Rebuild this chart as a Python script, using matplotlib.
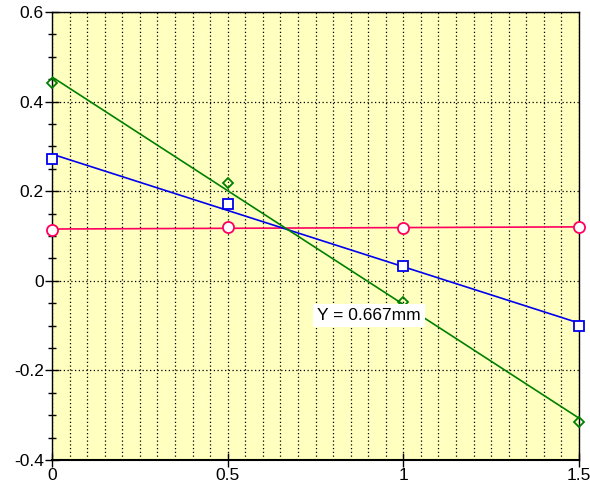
import numpy as np
import matplotlib
matplotlib.use("Agg")
import matplotlib.pyplot as plt
from matplotlib.ticker import MultipleLocator

plt.rcParams['font.family'] = ['Liberation Sans', 'DejaVu Sans']

x = [0, 0.5, 1.0, 1.5]
red_y = [0.114, 0.120, 0.118, 0.120]
blue_y = [0.273, 0.171, 0.033, -0.100]
green_y = [0.442, 0.218, -0.047, -0.316]
annotation = "Y = 0.667mm"

fig = plt.figure(figsize=(5.9, 4.9), dpi=100)
ax = fig.add_axes([0.0881, 0.0612, 0.8933, 0.9143])
ax.set_facecolor('#ffffc0')

ax.set_xlim(0, 1.5)
ax.set_ylim(-0.4, 0.6)

ax.xaxis.set_major_locator(MultipleLocator(0.5))
ax.xaxis.set_minor_locator(MultipleLocator(0.05))
ax.yaxis.set_major_locator(MultipleLocator(0.2))
ax.yaxis.set_minor_locator(MultipleLocator(0.05))

ax.grid(True, which='minor', axis='x', color='black', linestyle=(0, (1, 2)), linewidth=0.9)
ax.grid(True, which='major', axis='both', color='black', linestyle=(0, (1, 2)), linewidth=0.9)
ax.set_axisbelow(True)

ax.tick_params(axis='both', which='major', direction='inout', length=10, width=1, labelsize=12.5, pad=1)
ax.tick_params(axis='y', which='minor', direction='inout', length=6, width=1)
ax.tick_params(axis='x', which='minor', length=0)

ax.xaxis.set_major_formatter(matplotlib.ticker.FuncFormatter(lambda v, p: f"{v:g}"))
ax.yaxis.set_major_formatter(matplotlib.ticker.FuncFormatter(lambda v, p: f"{v:g}"))

for s in ax.spines.values():
    s.set_color('black')
    s.set_linewidth(1)
ax.spines['bottom'].set_linewidth(1.5)

xs = np.array(x)
series = [
    (red_y, '#ff0060', 'o', 8, 'white'),
    (blue_y, '#0000ee', 's', 7.5, 'white'),
    (green_y, '#008000', 'D', 5.5, 'none'),
]
for ys, col, mk, ms, fc in series:
    k, b = np.polyfit(xs, ys, 1)
    xl = np.array([0, 1.5])
    ax.plot(xl, k * xl + b, color=col, linewidth=1.2, zorder=3)
for ys, col, mk, ms, fc in series:
    ax.plot(xs, ys, linestyle='none', marker=mk, markersize=ms, markerfacecolor=fc,
            markeredgecolor=col, markeredgewidth=1.3, zorder=4, clip_on=False)

ax.text(0.755, -0.077, annotation, fontsize=12.5, va='center', ha='left', zorder=5,
        bbox=dict(facecolor='white', edgecolor='none', pad=3))

fig.savefig('out.png', dpi=100)
